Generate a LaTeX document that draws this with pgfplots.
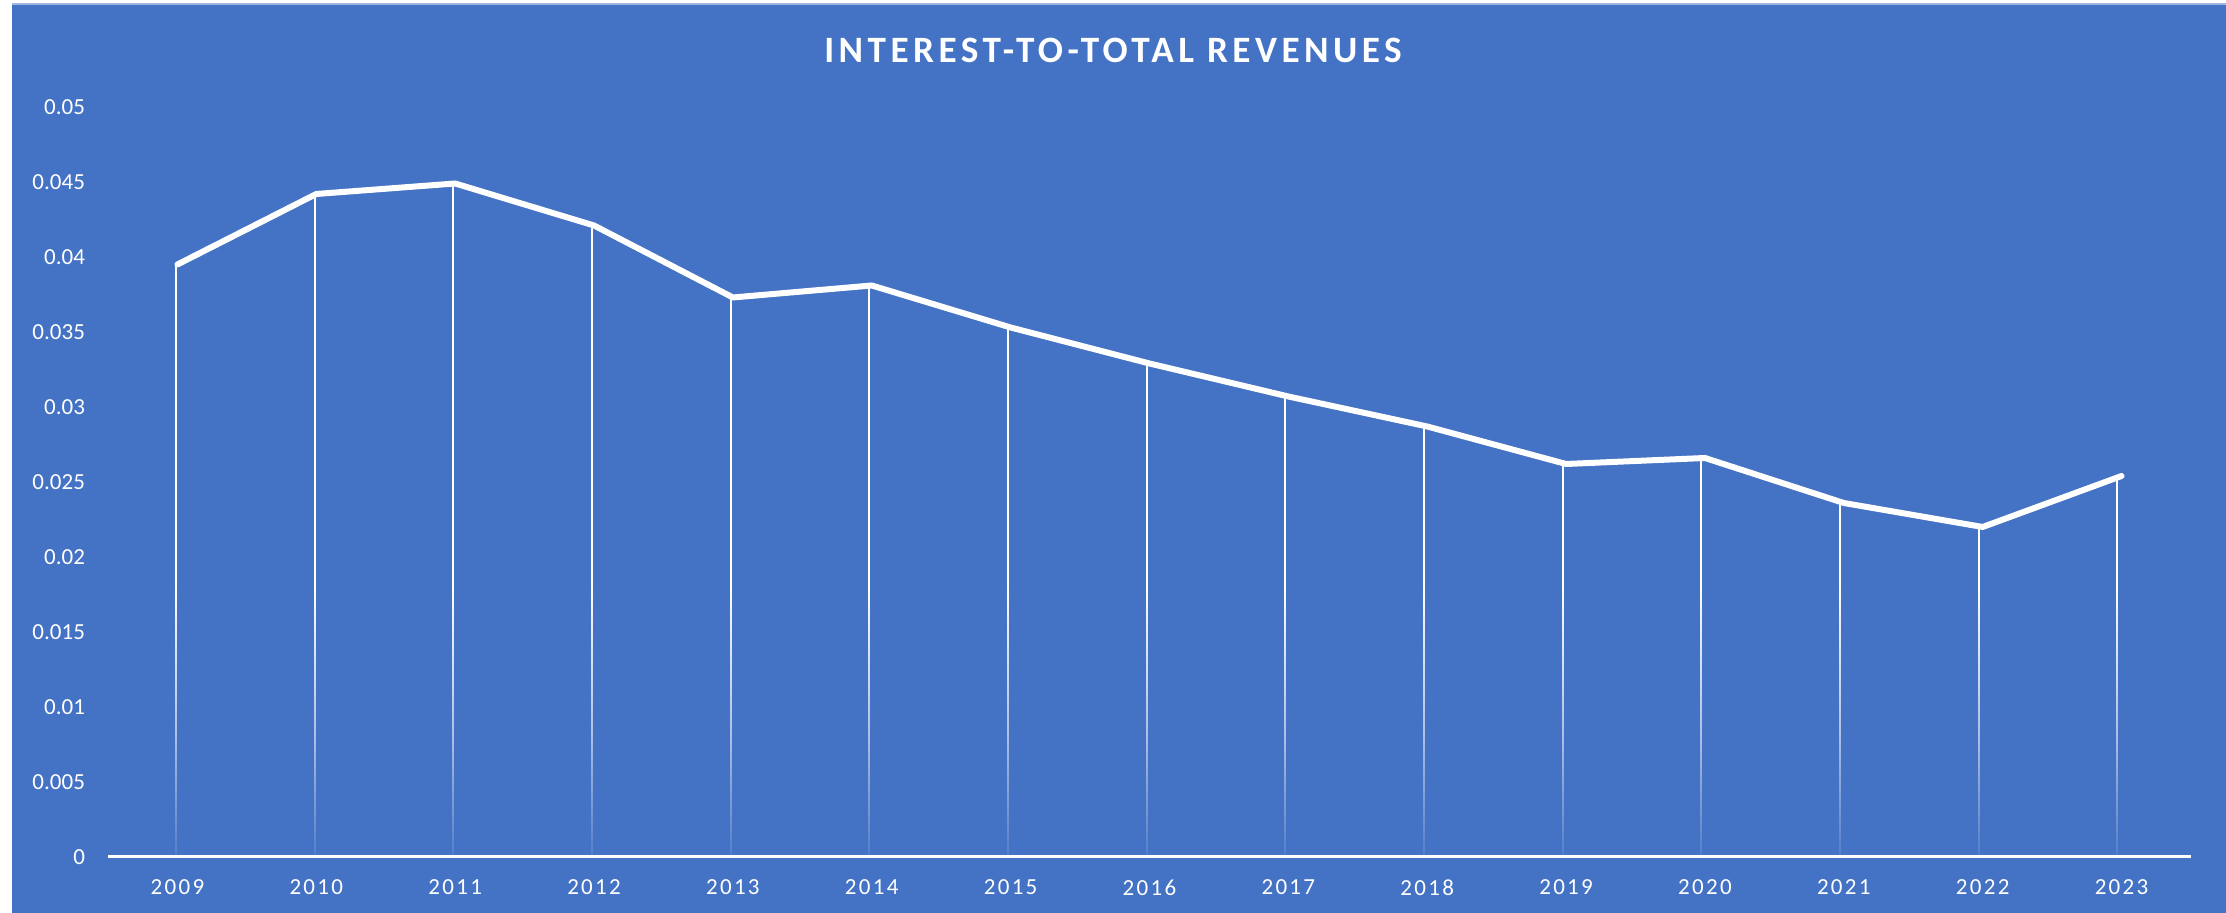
\documentclass[border=0pt]{standalone}
\usepackage{fontspec}
\setmainfont{Carlito}
\newfontfamily\titlefont[LetterSpace=12]{Carlito}
\newfontfamily\xlabfont[LetterSpace=10]{Carlito}
\usepackage{pgfplots}
\pgfplotsset{compat=1.18}
\usetikzlibrary{fadings}
\definecolor{bgblue}{RGB}{68,114,196}
\definecolor{topline}{RGB}{160,182,222}
\pgfdeclareverticalshading{dropshade}{100bp}{color(0bp)=(black); color(25bp)=(black!92!white); color(34bp)=(black!45!white); color(45bp)=(white); color(100bp)=(white)}
\pgfdeclarefading{dropfade}{\pgfuseshading{dropshade}}
\begin{document}
\begin{tikzpicture}
\fill[white] (0,0) rectangle (1113pt,456.5pt);
\fill[bgblue] (6pt,0) rectangle (1113pt,454.5pt);
\draw[topline, line width=0.6pt] (6pt,454.5pt) -- (1113pt,454.5pt);
\node[anchor=base, text=white, font=\titlefont\bfseries\fontsize{18.6}{22}\selectfont] at (556.5pt,425pt) {INTEREST-TO-TOTAL REVENUES};
\begin{axis}[
  at={(54pt,28pt)}, anchor=south west,
  scale only axis, width=1041.5pt, height=375pt,
  xmin=2008.5, xmax=2023.5, ymin=0, ymax=0.05,
  scaled y ticks=false, scaled x ticks=false,
  axis lines*=left, separate axis lines,
  x axis line style={white, line width=1.5pt, -},
  y axis line style={draw=none},
  major tick length=0pt,
  xtick={2009,2010,2011,2012,2013,2014,2015,2016,2017,2018,2019,2020,2021,2022,2023},
  xticklabels={2009,2010,2011,2012,2013,2014,2015,2016,2017,2018,2019,2020,2021,2022,2023},
  ytick={0,0.005,0.01,0.015,0.02,0.025,0.03,0.035,0.04,0.045,0.05},
  yticklabels={0,0.005,0.01,0.015,0.02,0.025,0.03,0.035,0.04,0.045,0.05},
  xticklabel style={text=white, font=\xlabfont\fontsize{11.5}{13}\selectfont, yshift=-8pt},
  yticklabel style={text=white, font=\fontsize{11.5}{13}\selectfont, anchor=east, xshift=-8pt},
  clip=false,
]
\addplot[ycomb, white, line width=1pt, path fading=dropfade, fit fading=true] coordinates {
(2009,0.0395) (2010,0.0442) (2011,0.0449) (2012,0.0421) (2013,0.0373) (2014,0.0381) (2015,0.0353) (2016,0.0329) (2017,0.0307) (2018,0.0287) (2019,0.0262) (2020,0.0266) (2021,0.0236) (2022,0.0220) (2023,0.0254)
};
\addplot[white, line width=3pt, line cap=round, line join=round] coordinates {
(2009,0.0395) (2010,0.0442) (2011,0.0449) (2012,0.0421) (2013,0.0373) (2014,0.0381) (2015,0.0353) (2016,0.0329) (2017,0.0307) (2018,0.0287) (2019,0.0262) (2020,0.0266) (2021,0.0236) (2022,0.0220) (2023,0.0254)
};
\end{axis}
\pgfresetboundingbox
\useasboundingbox (0,0) rectangle (1113pt,456.5pt);
\end{tikzpicture}
\end{document}
